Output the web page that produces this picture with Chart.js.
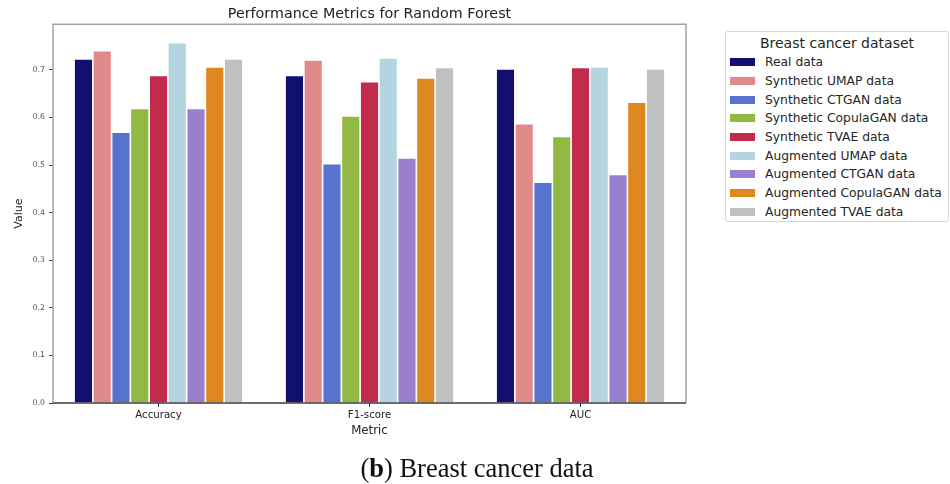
<!DOCTYPE html>
<html>
<head>
<meta charset="utf-8">
<script src="https://cdn.jsdelivr.net/npm/chart.js@4"></script>
<style>
  html, body { margin: 0; padding: 0; background: #fff; }
  #wrap { position: relative; width: 950px; height: 484px; overflow: hidden; }
  #chart { position: absolute; left: 0; top: 0; }
  #legend {
    position: absolute; left: 725px; top: 31px; width: 222px; height: 189px;
    border: 1px solid #d4d4d4; border-radius: 3px; background: #fff;
    font-family: "DejaVu Sans", sans-serif; color: #262626;
  }
  #legend .ttl { height: 20px; line-height: 20px; font-size: 14px; text-align: center; margin-top: 1px; }
  #legend .row { height: 18.7px; display: flex; align-items: center; font-size: 12.3px; white-space: nowrap; }
  #legend .sw { width: 25px; height: 8px; margin-left: 4px; margin-right: 10px; flex: none; }
  #caption {
    position: absolute; left: 0; width: 954px; top: 454px; text-align: center;
    font-family: "Liberation Serif", serif; font-size: 26.5px; line-height: 28px; color: #111;
  }
</style>
</head>
<body>
<div id="wrap">
  <canvas id="chart" width="950" height="484"></canvas>
  <div id="legend"></div>
  <div id="caption">(<b>b</b>) Breast cancer data</div>
</div>
<script>
// Random Forest scores per evaluation metric
const metrics = ['Accuracy', 'F1-score', 'AUC'];

const realData      = [0.723, 0.688, 0.702];
const synUmap       = [0.740, 0.721, 0.587];
const synCtgan      = [0.569, 0.503, 0.464];
const synCopulagan  = [0.619, 0.603, 0.560];
const synTvae       = [0.688, 0.675, 0.705];
const augUmap       = [0.757, 0.725, 0.706];
const augCtgan      = [0.619, 0.515, 0.480];
const augCopulagan  = [0.706, 0.683, 0.632];
const augTvae       = [0.723, 0.705, 0.702];

const seriesNames = [
  'Real data', 'Synthetic UMAP data', 'Synthetic CTGAN data', 'Synthetic CopulaGAN data',
  'Synthetic TVAE data', 'Augmented UMAP data', 'Augmented CTGAN data',
  'Augmented CopulaGAN data', 'Augmented TVAE data'
];
const seriesValues = [realData, synUmap, synCtgan, synCopulagan, synTvae,
                      augUmap, augCtgan, augCopulagan, augTvae];
const seriesColors = ['#12106e', '#e18a8c', '#5674ce', '#93b945', '#c22b4c',
                      '#b4d5e0', '#9a7fce', '#df8822', '#c0c0c0'];

const legendTitle = 'Breast cancer dataset';

// Spines around the plot area: light frame, darker baseline
const framePlugin = {
  id: 'frame',
  afterDraw(chart) {
    const { ctx, chartArea: a } = chart;
    ctx.save();
    ctx.strokeStyle = '#a3a3a3';
    ctx.lineWidth = 1.5;
    ctx.beginPath();
    ctx.moveTo(a.left, a.bottom);
    ctx.lineTo(a.left, a.top);
    ctx.lineTo(a.right, a.top);
    ctx.lineTo(a.right, a.bottom);
    ctx.stroke();
    ctx.strokeStyle = '#3c3c3c';
    ctx.lineWidth = 1.3;
    ctx.beginPath();
    ctx.moveTo(a.left, a.bottom);
    ctx.lineTo(a.right, a.bottom);
    ctx.stroke();
    ctx.restore();
  }
};

const chart = new Chart(document.getElementById('chart'), {
  type: 'bar',
  data: {
    labels: metrics,
    datasets: seriesNames.map((name, i) => ({
      label: name,
      data: seriesValues[i],
      backgroundColor: seriesColors[i],
      borderColor: 'rgba(255,255,255,0.25)',
      borderWidth: 0.8,
      categoryPercentage: 0.8,
      barPercentage: 1.0
    }))
  },
  options: {
    responsive: false,
    animation: false,
    layout: { padding: { left: 0, right: 264, top: 0, bottom: 43 } },
    plugins: {
      legend: { display: false },
      tooltip: { enabled: false },
      title: {
        display: true,
        text: 'Performance Metrics for Random Forest',
        fullSize: false,
        color: '#222',
        font: { family: 'DejaVu Sans', size: 14.3, weight: 'normal' },
        padding: { top: 6, bottom: 1 }
      }
    },
    scales: {
      x: {
        afterFit(scale) { scale.height = 38; },
        grid: { drawOnChartArea: false, offset: false, tickLength: 4, tickColor: '#333', tickWidth: 1 },
        border: { display: false },
        ticks: { color: '#222', font: { family: 'DejaVu Sans', size: 10.2 }, padding: 2, maxRotation: 0 },
        title: {
          display: true, text: 'Metric', color: '#222',
          font: { family: 'DejaVu Sans', size: 11.8 },
          padding: { top: 0, bottom: 3 }
        }
      },
      y: {
        min: 0,
        max: 0.796,
        afterFit(scale) { scale.width = 53; },
        grid: { drawOnChartArea: false, tickLength: 4, tickColor: '#444', tickWidth: 1 },
        border: { display: false },
        ticks: {
          stepSize: 0.1,
          includeBounds: false,
          color: '#555',
          padding: 4,
          font: { family: 'DejaVu Sans', size: 7.8 },
          callback: v => Number(v).toFixed(1)
        },
        title: {
          display: true, text: 'Value', color: '#222',
          font: { family: 'DejaVu Sans', size: 11 },
          padding: { top: 13, bottom: 0 }
        }
      }
    }
  },
  plugins: [framePlugin]
});

// Legend box built from the same series lists
const legendEl = document.getElementById('legend');
const t = document.createElement('div');
t.className = 'ttl';
t.textContent = legendTitle;
legendEl.appendChild(t);
seriesNames.forEach((name, i) => {
  const row = document.createElement('div');
  row.className = 'row';
  const sw = document.createElement('span');
  sw.className = 'sw';
  sw.style.background = seriesColors[i];
  const lab = document.createElement('span');
  lab.textContent = name;
  row.appendChild(sw);
  row.appendChild(lab);
  legendEl.appendChild(row);
});
</script>
</body>
</html>
